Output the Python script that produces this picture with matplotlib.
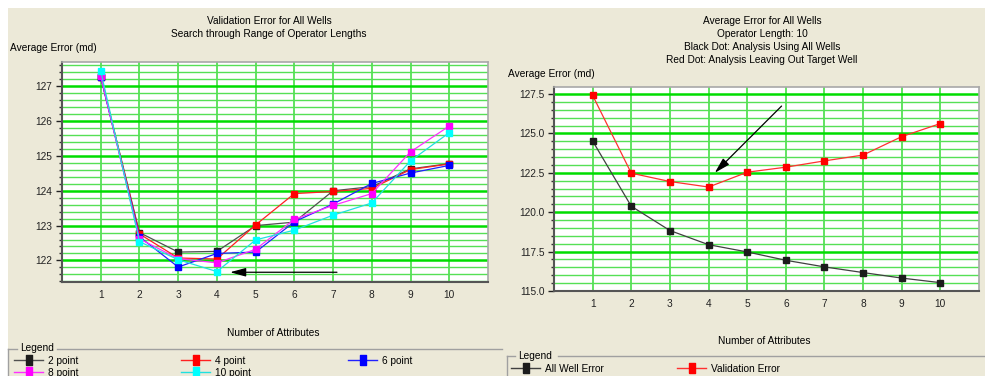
import matplotlib
matplotlib.use("Agg")
import matplotlib.pyplot as plt
from matplotlib.lines import Line2D
from matplotlib.patches import Rectangle
from matplotlib.ticker import MultipleLocator, FormatStrFormatter

# ---- data ----
attributes = [1, 2, 3, 4, 5, 6, 7, 8, 9, 10]

err_2pt = [127.28, 122.80, 122.24, 122.26, 123.00, 123.10, 124.00, 124.12, 124.63, 124.78]
err_4pt = [127.28, 122.76, 122.07, 122.04, 123.02, 123.92, 123.98, 124.07, 124.61, 124.77]
err_6pt = [127.27, 122.68, 121.81, 122.20, 122.24, 123.11, 123.62, 124.21, 124.51, 124.73]
err_8pt = [127.30, 122.62, 122.05, 121.93, 122.32, 123.18, 123.58, 123.92, 125.12, 125.86]
err_10pt = [127.44, 122.54, 122.02, 121.68, 122.59, 122.87, 123.30, 123.65, 124.86, 125.67]
left_labels = ["2 point", "4 point", "6 point", "8 point", "10 point"]

all_well_error = [124.52, 120.38, 118.84, 117.94, 117.48, 116.95, 116.53, 116.17, 115.82, 115.53]
validation_error = [127.42, 122.48, 121.95, 121.60, 122.54, 122.86, 123.26, 123.63, 124.80, 125.63]
right_labels = ["All Well Error", "Validation Error"]

# arrow annotations (tail, head) in data units
left_arrow = [(7.1, 121.66), (4.34, 121.66)]
right_arrow = [(5.89, 126.74), (4.16, 122.5)]

# ---- styling ----
W, H = 985, 376
BG = "#ECE9D8"
FONT = "Liberation Sans"
FS = 7.3
plt.rcParams["font.family"] = [FONT, "DejaVu Sans"]
plt.rcParams["font.size"] = FS

left_colors = ["#1c1c1c", "#ff0000", "#0000ff", "#ff00ff", "#00ffff"]
left_line_colors = ["#505050", "#ff2020", "#2020ff", "#ff30ff", "#20e0e0"]
right_colors = ["#1c1c1c", "#ff0000"]
right_line_colors = ["#404040", "#ff3030"]

MAJOR_GREEN = "#00dd00"
MINOR_GREEN = "#55e055"


def fx(px):
    return px / W


def fy(py):
    return 1 - py / H


fig = plt.figure(figsize=(W / 100, H / 100), dpi=100, facecolor=BG)

# white page margins on top and left
fig.patches.append(Rectangle((0, fy(8)), 1, 8 / H, transform=fig.transFigure,
                             facecolor="white", edgecolor="none", zorder=0))
fig.patches.append(Rectangle((0, 0), 8 / W, 1, transform=fig.transFigure,
                             facecolor="white", edgecolor="none", zorder=0))


def style_axes(ax, ymin, ymax, major, minor, fmt):
    ax.set_facecolor("white")
    ax.set_xlim(0, 11)
    ax.set_ylim(ymin, ymax)
    ax.yaxis.set_major_locator(MultipleLocator(major))
    ax.yaxis.set_minor_locator(MultipleLocator(minor))
    ax.yaxis.set_major_formatter(FormatStrFormatter(fmt))
    ax.set_xticks(attributes)
    ax.grid(True, axis="x", which="major", color=MINOR_GREEN, lw=1.3, zorder=0)
    ax.grid(True, axis="y", which="major", color=MAJOR_GREEN, lw=1.8, zorder=0)
    ax.grid(True, axis="y", which="minor", color=MINOR_GREEN, lw=1.0, zorder=0)
    ax.set_axisbelow(True)
    ax.tick_params(axis="x", length=0, pad=6, labelsize=FS, colors="#222222")
    ax.tick_params(axis="y", which="major", length=4, width=1, pad=3,
                   labelsize=FS, colors="#222222")
    ax.tick_params(axis="y", which="minor", length=2.5, width=1, colors="#333333")
    for side in ("left", "bottom"):
        ax.spines[side].set_color("#555555")
        ax.spines[side].set_linewidth(1.5)
    for side in ("right", "top"):
        ax.spines[side].set_color("#a8a8a8")
        ax.spines[side].set_linewidth(1.2)


def draw_arrow(ax, arrow):
    (x0, y0), (x1, y1) = arrow
    ax.annotate("", xy=(x1, y1), xytext=(x0, y0),
                arrowprops=dict(arrowstyle="-|>,head_length=0.95,head_width=0.26",
                                mutation_scale=10, color="black", lw=0.9,
                                shrinkA=0, shrinkB=0), zorder=6)


legend_marker = [(-0.5, -1), (0.5, -1), (0.5, 1), (-0.5, 1), (-0.5, -1)]


def handle(color, line_color):
    return Line2D([], [], color=line_color, lw=1, marker=legend_marker,
                  markersize=7.5, markerfacecolor=color, markeredgecolor=color)


# ---------- left chart ----------
axL = fig.add_axes([fx(62), fy(282), fx(488 - 62), (282 - 62) / H])
style_axes(axL, 121.38, 127.7, 1, 0.2, "%d")
left_series = [err_2pt, err_4pt, err_6pt, err_8pt, err_10pt]
for i, (vals, c, lc) in enumerate(zip(left_series, left_colors, left_line_colors)):
    axL.plot(attributes, vals, color=lc, lw=0.9, marker="s", markersize=4.9,
             markerfacecolor=c, markeredgecolor=c, zorder=3 + i * 0.1)
draw_arrow(axL, left_arrow)

fig.text(fx(269), fy(20.5), "Validation Error for All Wells", ha="center", va="center")
fig.text(fx(269), fy(34), "Search through Range of Operator Lengths", ha="center", va="center")
fig.text(fx(10), fy(48), "Average Error (md)", ha="left", va="center")
fig.text(fx(273), fy(333), "Number of Attributes", ha="center", va="center")

# ---------- right chart ----------
axR = fig.add_axes([fx(554), fy(291), fx(979 - 554), (291 - 87) / H])
style_axes(axR, 115.0, 127.95, 2.5, 0.5, "%.1f")
for i, (vals, c, lc) in enumerate(zip([all_well_error, validation_error],
                                      right_colors, right_line_colors)):
    axR.plot(attributes, vals, color=lc, lw=0.9, marker="s", markersize=4.9,
             markerfacecolor=c, markeredgecolor=c, zorder=3 + i * 0.1)
draw_arrow(axR, right_arrow)

right_title = ["Average Error for All Wells", "Operator Length: 10",
               "Black Dot: Analysis Using All Wells",
               "Red Dot: Analysis Leaving Out Target Well"]
for k, line in enumerate(right_title):
    fig.text(fx(762), fy(20.5 + k * 13.2), line, ha="center", va="center")
fig.text(fx(508), fy(74), "Average Error (md)", ha="left", va="center")
fig.text(fx(764), fy(341), "Number of Attributes", ha="center", va="center")

# ---------- legends (group boxes) ----------
box_color = "#a0a0a0"


def group_box(x_left, x_right, y_top, text_x0, text_x1):
    fig.lines.append(Line2D([fx(x_left), fx(text_x0)], [fy(y_top)] * 2,
                            transform=fig.transFigure, color=box_color, lw=1))
    fig.lines.append(Line2D([fx(text_x1), fx(x_right)], [fy(y_top)] * 2,
                            transform=fig.transFigure, color=box_color, lw=1))
    fig.lines.append(Line2D([fx(x_left)] * 2, [fy(y_top), 0],
                            transform=fig.transFigure, color=box_color, lw=1))


group_box(8, 502, 349, 17, 57)
fig.text(fx(20), fy(348), "Legend", ha="left", va="center")
group_box(507, 985, 356, 515, 558)
fig.text(fx(518), fy(356), "Legend", ha="left", va="center")


def legend_column(handles, labels, x_px, y_px):
    fig.legend(handles, labels, loc="upper left",
               bbox_to_anchor=(fx(x_px), fy(y_px)), frameon=False,
               handlelength=2.9, handletextpad=0.45, labelspacing=0.15,
               borderpad=0, borderaxespad=0, fontsize=FS)


# left legend: three columns, rows "2,4,6" then "8,10"
left_handles = [handle(c, lc) for c, lc in zip(left_colors, left_line_colors)]
left_columns = [[0, 3], [1, 4], [2]]
for col, x_px in zip(left_columns, [14, 181, 348]):
    legend_column([left_handles[i] for i in col], [left_labels[i] for i in col], x_px, 356)

# right legend: two columns in one row
right_handles = [handle(c, lc) for c, lc in zip(right_colors, right_line_colors)]
for i, x_px in enumerate([511, 677]):
    legend_column([right_handles[i]], [right_labels[i]], x_px, 364)

fig.savefig("out.png", dpi=100, facecolor=BG)
